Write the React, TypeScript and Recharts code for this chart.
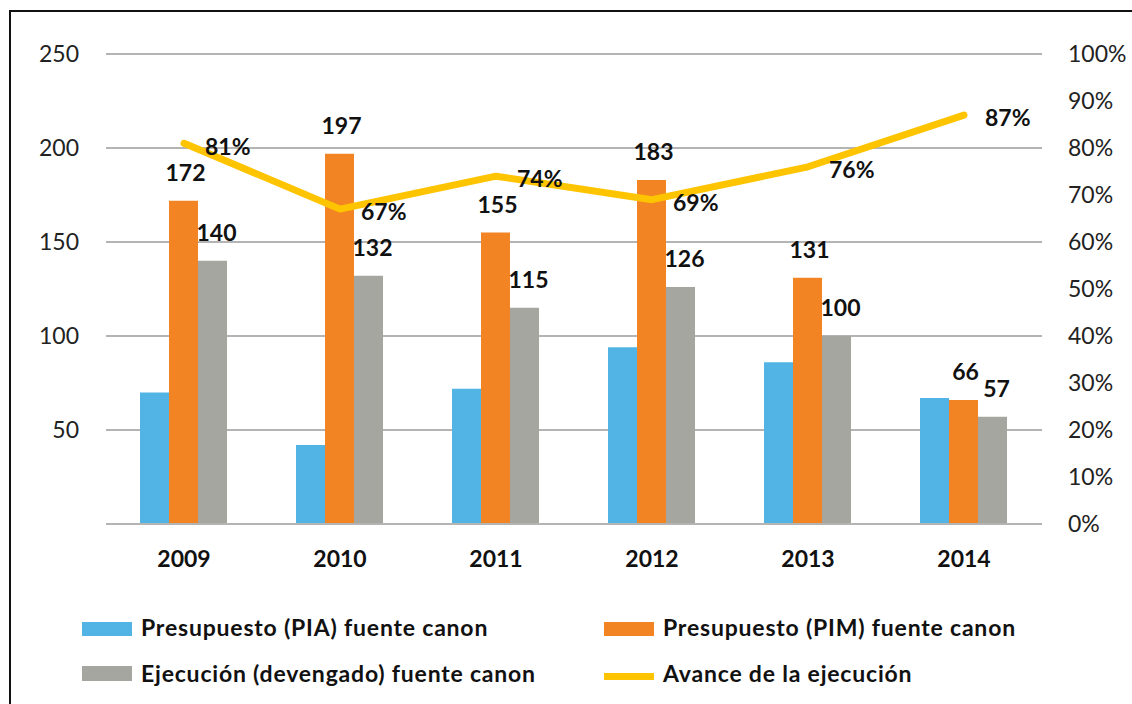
import { ComposedChart, Bar, Line, XAxis, YAxis, CartesianGrid, LabelList } from "recharts"

const years = ["2009", "2010", "2011", "2012", "2013", "2014"]
const pia = [70, 42, 72, 94, 86, 67]
const pim = [172, 197, 155, 183, 131, 66]
const ejecucion = [140, 132, 115, 126, 100, 57]
const avance = [81, 67, 74, 69, 76, 87]

const leftTicks = [50, 100, 150, 200, 250]
const rightTicks = [0, 10, 20, 30, 40, 50, 60, 70, 80, 90, 100]

const names = {
  pia: "Presupuesto (PIA) fuente canon",
  pim: "Presupuesto (PIM) fuente canon",
  ejecucion: "Ejecución (devengado) fuente canon",
  avance: "Avance de la ejecución",
}

const colors = {
  pia: "#52b4e5",
  pim: "#f28423",
  ejecucion: "#a6a6a1",
  avance: "#ffc400",
  grid: "#b4b4b4",
}

const data = years.map((year, i) => ({
  year,
  pia: pia[i],
  pim: pim[i],
  ejecucion: ejecucion[i],
  avance: avance[i],
}))

const font = "Lato, 'Century Gothic', sans-serif"

// value label above a bar
const barLabel = (dx: number) => (p: any) => (
  <text
    x={p.x + p.width / 2 + dx}
    y={p.y - 20}
    textAnchor="middle"
    fontFamily={font}
    fontWeight={700}
    fontSize={23}
    fill="#111"
  >
    {p.value}
  </text>
)

const lineLabel = (p: any) => {
  const vb = p.viewBox || {}
  const x = p.x ?? vb.x
  const y = p.y ?? vb.y
  return (
    <text x={x + 21} y={y + 3} dy="0.36em" fontFamily={font} fontWeight={700} fontSize={23} fill="#111">
      {p.value}%
    </text>
  )
}

function LegendBox() {
  const text = {
    position: "absolute" as const,
    fontFamily: font,
    fontWeight: 700,
    fontSize: 23,
    letterSpacing: 0.8,
    color: "#111",
    lineHeight: "28px",
    whiteSpace: "nowrap" as const,
  }
  return (
    <>
      <div style={{ position: "absolute", left: 82, top: 622, width: 50, height: 14, background: colors.pia }} />
      <div style={{ ...text, left: 141, top: 613 }}>{names.pia}</div>
      <div style={{ position: "absolute", left: 604, top: 622, width: 50, height: 14, background: colors.pim }} />
      <div style={{ ...text, left: 663, top: 613 }}>{names.pim}</div>
      <div style={{ position: "absolute", left: 82, top: 666, width: 50, height: 15, background: colors.ejecucion }} />
      <div style={{ ...text, left: 141, top: 659 }}>{names.ejecucion}</div>
      <div style={{ position: "absolute", left: 604, top: 673, width: 50, height: 7, background: colors.avance }} />
      <div style={{ ...text, left: 663, top: 659 }}>{names.avance}</div>
    </>
  )
}

export default function App() {
  return (
    <div style={{ position: "fixed", left: 0, top: 0, width: 1132, height: 704, overflow: "hidden", background: "#fff" }}>
      <div
        style={{
          position: "absolute",
          left: 9,
          top: 10,
          width: 1140,
          height: 720,
          borderTop: "2px solid #111",
          borderLeft: "2px solid #111",
        }}
      />
      <ComposedChart
        width={1132}
        height={704}
        data={data}
        margin={{ top: 54, right: 10, bottom: 120, left: 10 }}
        barCategoryGap={34}
        barGap={0}
        style={{ position: "absolute", left: 0, top: 0 }}
      >
        <CartesianGrid yAxisId="left" vertical={false} stroke={colors.grid} strokeWidth={2} />
        <XAxis
          dataKey="year"
          height={60}
          tickLine={false}
          tickSize={0}
          tickMargin={27}
          axisLine={{ stroke: colors.grid, strokeWidth: 2 }}
          tick={{ fontFamily: font, fontWeight: 700, fontSize: 23, fill: "#111" }}
        />
        <YAxis
          yAxisId="left"
          width={96}
          domain={[0, 250]}
          ticks={leftTicks}
          axisLine={false}
          tickLine={false}
          tickSize={0}
          tickMargin={27}
          tick={{ fontFamily: font, fontSize: 23, fill: "#222" }}
        />
        <YAxis
          yAxisId="right"
          orientation="right"
          width={80}
          domain={[0, 100]}
          ticks={rightTicks}
          tickFormatter={(v: number) => `${v}%`}
          axisLine={false}
          tickLine={false}
          tickSize={0}
          tickMargin={26}
          tick={{ fontFamily: font, fontSize: 23, fill: "#222", textAnchor: "start" }}
        />
        <Bar yAxisId="left" dataKey="pia" name={names.pia} fill={colors.pia} isAnimationActive={false} />
        <Bar yAxisId="left" dataKey="pim" name={names.pim} fill={colors.pim} isAnimationActive={false}>
          <LabelList dataKey="pim" content={barLabel(2)} />
        </Bar>
        <Bar yAxisId="left" dataKey="ejecucion" name={names.ejecucion} fill={colors.ejecucion} isAnimationActive={false}>
          <LabelList dataKey="ejecucion" content={barLabel(4)} />
        </Bar>
        <Line
          yAxisId="right"
          dataKey="avance"
          name={names.avance}
          stroke={colors.avance}
          strokeWidth={7}
          strokeLinejoin="round"
          strokeLinecap="round"
          dot={false}
          activeDot={false}
          isAnimationActive={false}
        >
          <LabelList dataKey="avance" content={lineLabel} />
        </Line>
      </ComposedChart>
      <LegendBox />
    </div>
  )
}
